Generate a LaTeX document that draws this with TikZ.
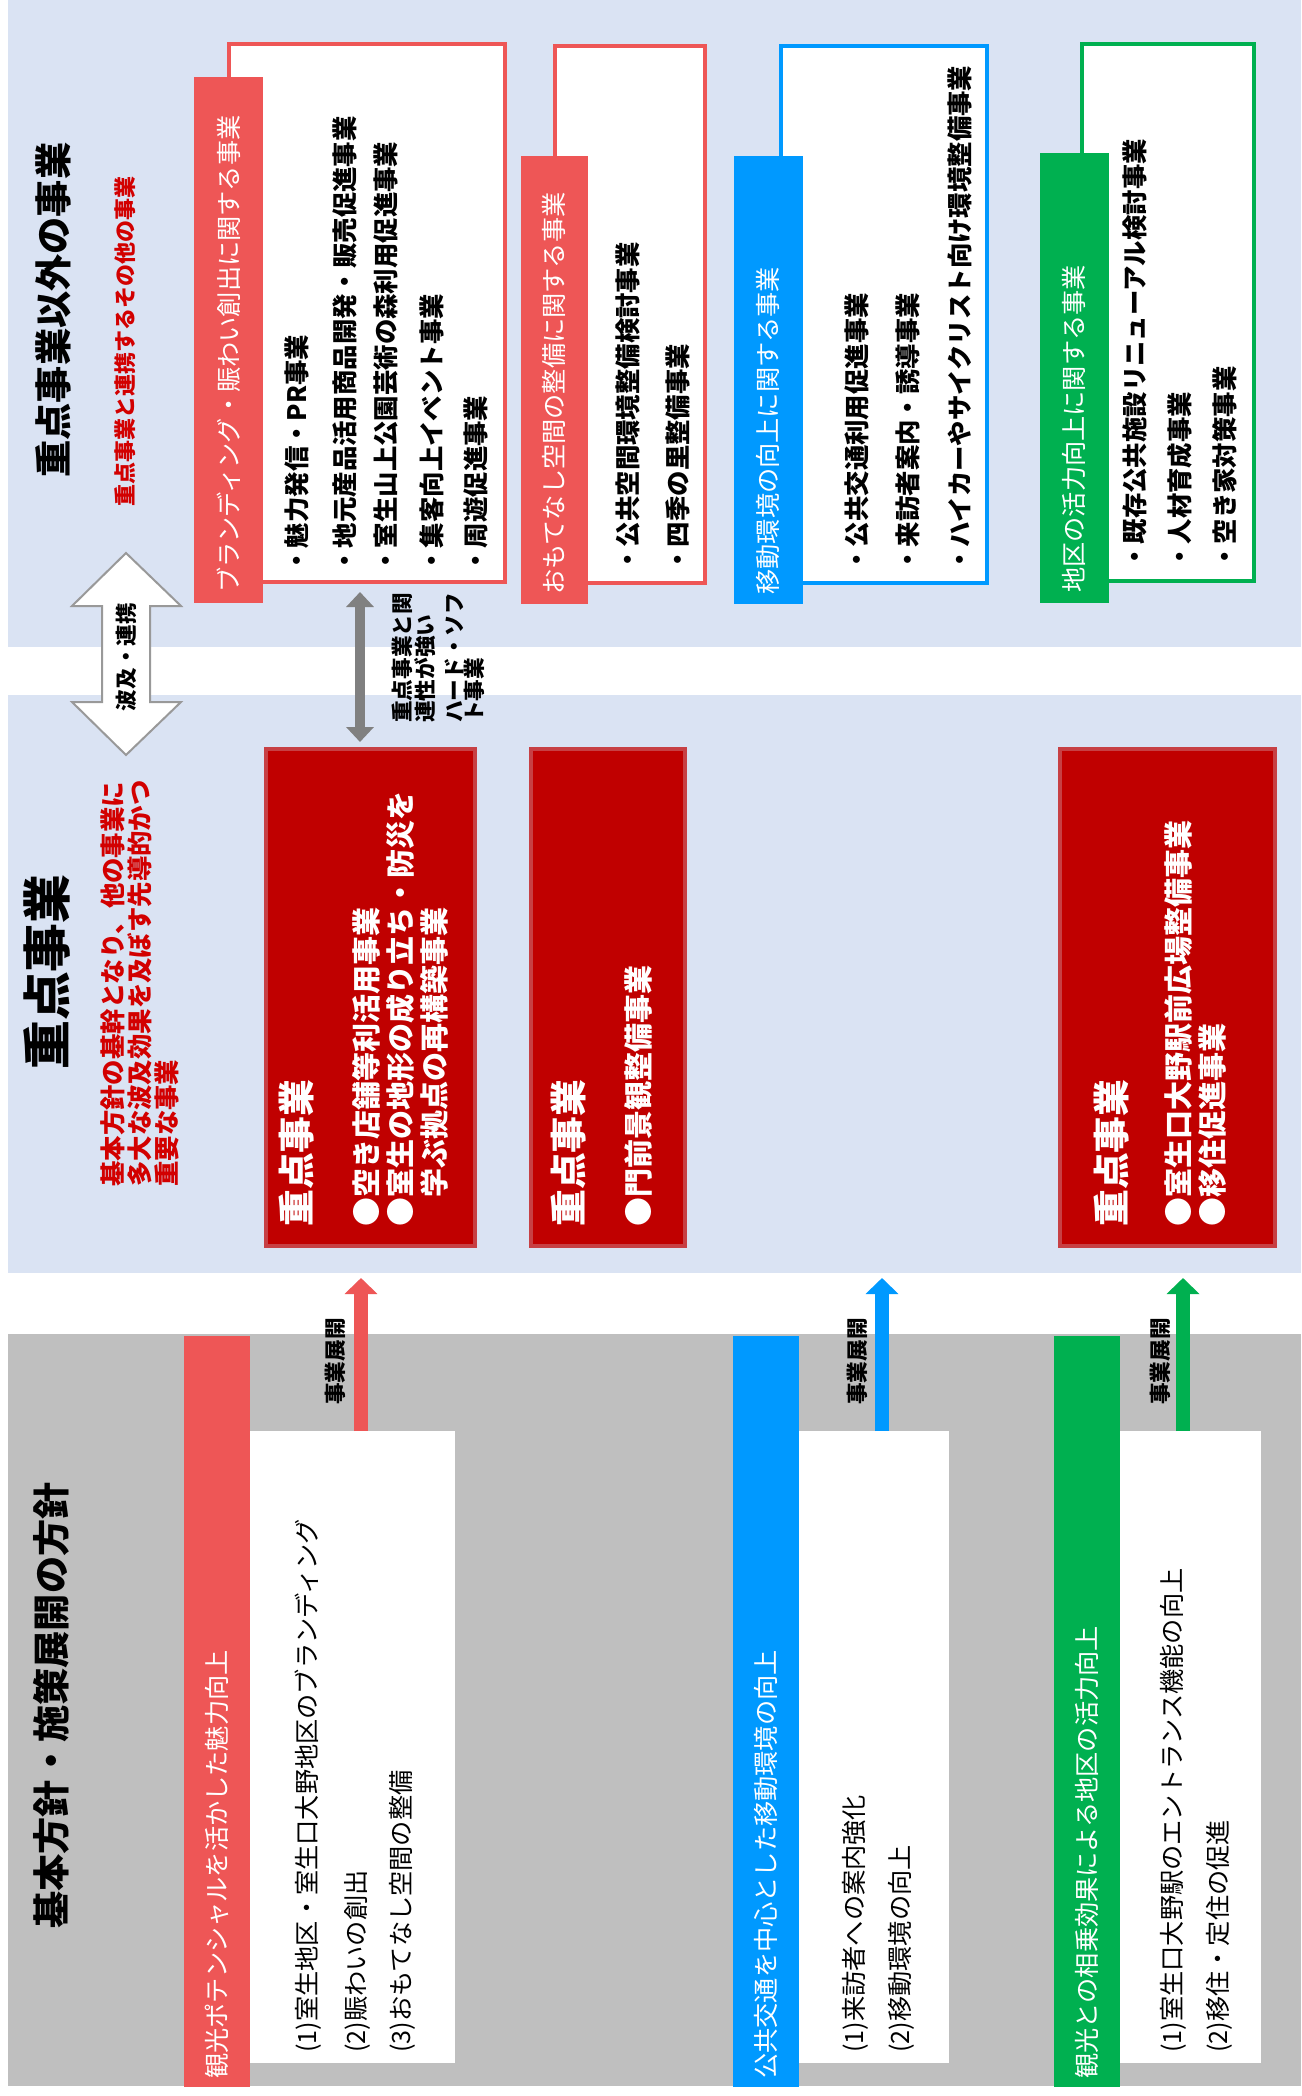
\documentclass[tikz,border=0pt]{standalone}
\usepackage{fontspec}
\setmainfont{Noto Sans CJK JP}
\usetikzlibrary{fit,arrows.meta}

\definecolor{panelblue}{RGB}{218,227,243}
\definecolor{panelgray}{RGB}{191,191,191}
\definecolor{brandred}{RGB}{238,86,86}
\definecolor{moveblue}{RGB}{0,153,255}
\definecolor{areagreen}{RGB}{0,176,80}
\definecolor{keyred}{RGB}{192,0,0}
\definecolor{notered}{RGB}{210,0,0}
\definecolor{linkgray}{RGB}{128,128,128}

\tikzstyle{panel}=[inner sep=0pt,outer sep=0pt]
\tikzstyle{listbox}=[panel,fill=white,line width=2pt]
\tikzstyle{keybox}=[panel,fill=keyred,draw=keyred!72!panelblue,line width=2pt]
\tikzstyle{vtext}=[rotate=90,anchor=west,inner sep=0pt]
\tikzstyle{bigtitle}=[vtext,font=\bfseries\fontsize{18.6pt}{22pt}\selectfont]
\tikzstyle{headtext}=[vtext,text=white,font=\fontsize{12.6pt}{15pt}\selectfont]
\tikzstyle{itemtext}=[vtext,font=\bfseries\fontsize{12.7pt}{15pt}\selectfont]
\tikzstyle{keytitle}=[vtext,text=white,font=\bfseries\fontsize{18.4pt}{22pt}\selectfont]
\tikzstyle{keyitem}=[vtext,text=white,align=left,font=\bfseries\fontsize{14.5pt}{17pt}\selectfont]
\tikzstyle{notetext}=[vtext,text=notered,align=left,font=\bfseries\fontsize{12.7pt}{13.5pt}\selectfont]
\tikzstyle{smallbold}=[vtext,align=left,font=\bfseries\fontsize{10.8pt}{10pt}\selectfont]
\tikzstyle{policyitem}=[vtext,font=\fontsize{12.6pt}{15pt}\selectfont]
\tikzstyle{devarrow}=[line width=7pt,-{Triangle[width=16pt,length=8pt]},shorten >=2.5pt]
\tikzstyle{linkarrow}=[linkgray,line width=5pt,{Triangle[width=13.5pt,length=7.5pt]}-{Triangle[width=13.5pt,length=7.5pt]},shorten <=5pt,shorten >=3.5pt]
\tikzstyle{spreadarrow}=[fill=white,draw=linkgray!80,line width=1pt]

\begin{document}
\begin{tikzpicture}[x=0.5pt,y=-0.5pt]

   \useasboundingbox (0,0) rectangle (1301,2096);
   \fill[white] (0,0) rectangle (1301,2096);

   % Other projects band

   \node[panel,fill=panelblue,fit={(8,0) (1301,647)}] (otherpanel) {};
   \node[bigtitle] (othertitle) at (53,478) {重点事業以外の事業};
   \node[vtext,text=notered,font=\bfseries\fontsize{11pt}{13pt}\selectfont] (othernote) at (125,507) {重点事業と連携するその他の事業};

   \node[listbox,draw=brandred,fit={(229,44) (505,582)}] (brandbox) {};
   \node[panel,fill=brandred,fit={(194,77) (263,603)}] (brandhead) {};
   \node[headtext] (brandheadtext) at (229,593) {ブランディング・賑わい創出に関する事業};
   \node[itemtext] (brand1) at (297,574) {・魅力発信・PR事業};
   \node[itemtext] (brand2) at (345,574) {・地元産品活用商品開発・販売促進事業};
   \node[itemtext] (brand3) at (386,574) {・室生山上公園芸術の森利用促進事業};
   \node[itemtext] (brand4) at (432,574) {・集客向上イベント事業};
   \node[itemtext] (brand5) at (476,574) {・周遊促進事業};

   \node[listbox,draw=brandred,fit={(555,46) (705,583)}] (spacebox) {};
   \node[panel,fill=brandred,fit={(521,156) (588,604)}] (spacehead) {};
   \node[headtext] (spaceheadtext) at (554,595) {おもてなし空間の整備に関する事業};
   \node[itemtext] (space1) at (628,573) {・公共空間環境整備検討事業};
   \node[itemtext] (space2) at (678,573) {・四季の里整備事業};

   \node[listbox,draw=moveblue,fit={(781,46) (987,583)}] (movebox) {};
   \node[panel,fill=moveblue,fit={(734,156) (803,604)}] (movehead) {};
   \node[headtext] (moveheadtext) at (768,595) {移動環境の向上に関する事業};
   \node[itemtext] (move1) at (857,573) {・公共交通利用促進事業};
   \node[itemtext] (move2) at (908,573) {・来訪者案内・誘導事業};
   \node[itemtext] (move3) at (960,573) {・ハイカーやサイクリスト向け環境整備事業};

   \node[listbox,draw=areagreen,fit={(1082,44) (1254,581)}] (areabox) {};
   \node[panel,fill=areagreen,fit={(1040,153) (1109,603)}] (areahead) {};
   \node[headtext] (areaheadtext) at (1074,593) {地区の活力向上に関する事業};
   \node[itemtext] (area1) at (1135,570) {・既存公共施設リニューアル検討事業};
   \node[itemtext] (area2) at (1180,570) {・人材育成事業};
   \node[itemtext] (area3) at (1225,570) {・空き家対策事業};

   % Key projects band

   \node[panel,fill=panelblue,fit={(8,695) (1301,1273)}] (keypanel) {};
   \node[vtext,font=\bfseries\fontsize{24.4pt}{28pt}\selectfont] (keytitlemain) at (47,1070) {重点事業};
   \node[notetext] (keynote) at (140,1187) {基本方針の基幹となり、他の事業に\\多大な波及効果を及ぼす先導的かつ\\重要な事業};

   \node[keybox,fit={(266,749) (475,1246)}] (keyA) {};
   \node[keytitle] (keyAtitle) at (297,1227) {重点事業};
   \node[keyitem] (keyAitems) at (400,1227) {●空き店舗等利活用事業\\●室生の地形の成り立ち・防災を\\\phantom{●}学ぶ拠点の再構築事業};

   \node[keybox,fit={(531,749) (685,1246)}] (keyB) {};
   \node[keytitle] (keyBtitle) at (569,1227) {重点事業};
   \node[keyitem] (keyBitems) at (638,1227) {●門前景観整備事業};

   \node[keybox,fit={(1060,749) (1275,1246)}] (keyC) {};
   \node[keytitle] (keyCtitle) at (1112,1227) {重点事業};
   \node[keyitem] (keyCitems) at (1196,1227) {●室生口大野駅前広場整備事業\\●移住促進事業};

   % Links between bands

   \draw[spreadarrow] (126,553) -- (181,606) -- (150,606) -- (150,702) -- (181,702)
      -- (126,755) -- (72,702) -- (102,702) -- (102,606) -- (72,606) -- cycle;
   \node[smallbold,anchor=center] (spreadlabel) at (126,657) {波及・連携};

   \coordinate (linkx) at (360,0);
   \draw[linkarrow] (brandbox.south -| linkx) -- (keyA.north -| linkx);
   \node[smallbold] (linknote1) at (414,723) {重点事業と関\\連性が強い};
   \node[smallbold] (linknote2) at (465,723) {ハード・ソフ\\ト事業};

   % Policy band

   \node[panel,fill=panelgray,fit={(8,1334) (1301,2086)}] (policypanel) {};
   \node[bigtitle] (policytitle) at (51,1929) {基本方針・施策展開の方針};

   \node[panel,fill=brandred,fit={(184,1336) (250,2087)}] (brandbar) {};
   \node[headtext] (brandbartext) at (217,2079) {観光ポテンシャルを活かした魅力向上};
   \node[panel,fill=white,fit={(250,1431) (455,2063)}] (brandplan) {};
   \node[policyitem] (plan1) at (308,2053) {(1)室生地区・室生口大野地区のブランディング};
   \node[policyitem] (plan2) at (357,2053) {(2)賑わいの創出};
   \node[policyitem] (plan3) at (402,2053) {(3)おもてなし空間の整備};

   \node[panel,fill=moveblue,fit={(733,1336) (799,2087)}] (movebar) {};
   \node[headtext] (movebartext) at (766,2079) {公共交通を中心とした移動環境の向上};
   \node[panel,fill=white,fit={(799,1431) (949,2063)}] (moveplan) {};
   \node[policyitem] (plan4) at (855,2053) {(1)来訪者への案内強化};
   \node[policyitem] (plan5) at (901,2053) {(2)移動環境の向上};

   \node[panel,fill=areagreen,fit={(1054,1336) (1120,2087)}] (areabar) {};
   \node[headtext] (areabartext) at (1087,2079) {観光との相乗効果による地区の活力向上};
   \node[panel,fill=white,fit={(1120,1431) (1261,2063)}] (areaplan) {};
   \node[policyitem] (plan6) at (1173,2053) {(1)室生口大野駅のエントランス機能の向上};
   \node[policyitem] (plan7) at (1219,2053) {(2)移住・定住の促進};

   % Project roll-out arrows

   \coordinate (devA) at (361,0);
   \coordinate (devB) at (882,0);
   \coordinate (devC) at (1183,0);
   \draw[devarrow,brandred] (brandplan.north -| devA) -- (keypanel.south -| devA);
   \draw[devarrow,moveblue] (moveplan.north -| devB) -- (keypanel.south -| devB);
   \draw[devarrow,areagreen] (areaplan.north -| devC) -- (keypanel.south -| devC);
   \node[smallbold] (devAlabel) at (335,1405) {事業展開};
   \node[smallbold] (devBlabel) at (857,1405) {事業展開};
   \node[smallbold] (devClabel) at (1160,1405) {事業展開};

\end{tikzpicture}
\end{document}
